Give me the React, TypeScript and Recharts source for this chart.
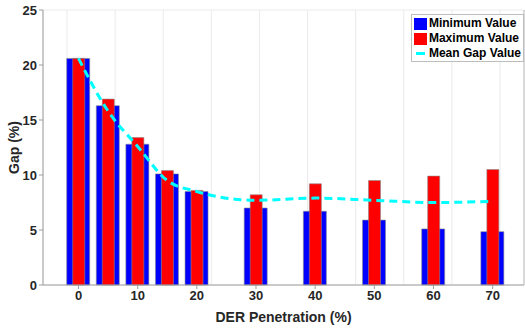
import React from 'react';
import {
  ComposedChart,
  Bar,
  Line,
  XAxis,
  YAxis,
  CartesianGrid,
} from 'recharts';

// DER penetration levels (%)
const penetration = [0, 5, 10, 15, 20, 30, 40, 50, 60, 70];
const minValue = [20.6, 16.3, 12.8, 10.1, 8.5, 7.0, 6.7, 5.9, 5.1, 4.85];
const maxValue = [20.6, 16.9, 13.4, 10.4, 8.6, 8.2, 9.2, 9.5, 9.9, 10.5];
const meanGap = [20.6, 15.8, 12.6, 9.5, 8.5, 7.7, 7.9, 7.7, 7.5, 7.6];

const xTicks = [0, 10, 20, 30, 40, 50, 60, 70];
const yTicks = [0, 5, 10, 15, 20, 25];

const FONT = '"Liberation Sans", Arial, sans-serif';
const TEXT = '#262626';

const chartData = penetration.map((p, i) => ({
  der: p,
  min: minValue[i],
  max: maxValue[i],
  mean: meanGap[i],
}));

const legendItems = [
  { label: 'Minimum Value', color: '#0000FF', kind: 'box' },
  { label: 'Maximum Value', color: '#FF0000', kind: 'box' },
  { label: 'Mean Gap Value', color: '#00FFFF', kind: 'line' },
];

// legend drawn as an overlay so it doesn't eat into the plot area
const GapLegend = () => (
  <div
    style={{
      position: 'absolute',
      top: 14,
      right: 1,
      background: '#fff',
      border: '1px solid #bdbdbd',
      padding: '1px 2px 0 2px',
      fontFamily: FONT,
      fontWeight: 'bold',
      fontSize: 12,
      color: '#000',
      lineHeight: '15px',
    }}
  >
    {legendItems.map((item) => (
      <div key={item.label} style={{ display: 'flex', alignItems: 'center' }}>
        {item.kind === 'box' ? (
          <span style={{ width: 13, height: 12, background: item.color, marginRight: 2 }} />
        ) : (
          <span
            style={{ width: 9, height: 3, background: item.color, margin: '0 4px 0 2px' }}
          />
        )}
        <span>{item.label}</span>
      </div>
    ))}
  </div>
);

export default function App() {
  return (
    <div style={{ position: 'absolute', left: 0, top: 0, width: 525, height: 328, background: '#fff' }}>
      <ComposedChart
        width={525}
        height={328}
        data={chartData}
        margin={{ top: 10, right: 0, bottom: 0, left: 0 }}
      >
        <CartesianGrid stroke="#ebebeb" strokeWidth={1} />
        <XAxis
          xAxisId="main"
          dataKey="der"
          type="number"
          domain={[-6, 75.3]}
          ticks={xTicks}
          height={43}
          stroke="#9e9e9e"
          tickLine={{ stroke: '#9e9e9e' }}
          tickSize={4}
          tick={{ fill: TEXT, fontFamily: FONT, fontWeight: 'bold', fontSize: 13 }}
          label={{
            value: 'DER Penetration (%)',
            position: 'insideBottom',
            offset: 6,
            fill: TEXT,
            fontFamily: FONT,
            fontWeight: 'bold',
            fontSize: 14,
          }}
        />
        <XAxis xAxisId="overlay" dataKey="der" type="number" domain={[-6, 75.3]} hide />
        <XAxis
          xAxisId="top"
          orientation="top"
          dataKey="der"
          type="number"
          domain={[-6, 75.3]}
          ticks={xTicks}
          height={0}
          stroke="#bdbdbd"
          tick={false}
          tickSize={0}
        />
        <YAxis
          yAxisId="left"
          domain={[0, 25]}
          ticks={yTicks}
          width={43}
          stroke="#9e9e9e"
          tickSize={4}
          tick={{ fill: TEXT, fontFamily: FONT, fontWeight: 'bold', fontSize: 13 }}
          label={{
            value: 'Gap (%)',
            angle: -90,
            position: 'insideLeft',
            offset: 14,
            style: { textAnchor: 'middle' },
            fill: TEXT,
            fontFamily: FONT,
            fontWeight: 'bold',
            fontSize: 14,
          }}
        />
        <YAxis
          yAxisId="right"
          orientation="right"
          domain={[0, 25]}
          ticks={yTicks}
          width={1}
          stroke="#bdbdbd"
          tick={false}
          tickSize={0}
        />
        <Bar
          xAxisId="main"
          yAxisId="left"
          dataKey="min"
          name="Minimum Value"
          fill="#0000FF"
          stroke="#8a8a8a"
          strokeWidth={0.6}
          barSize={23}
          isAnimationActive={false}
        />
        <Bar
          xAxisId="overlay"
          yAxisId="left"
          dataKey="max"
          name="Maximum Value"
          fill="#FF0000"
          stroke="#8a8a8a"
          strokeWidth={0.6}
          barSize={12}
          isAnimationActive={false}
        />
        <Line
          xAxisId="main"
          yAxisId="left"
          type="monotone"
          dataKey="mean"
          name="Mean Gap Value"
          stroke="#00FFFF"
          strokeWidth={3}
          strokeDasharray="8 5"
          dot={false}
          isAnimationActive={false}
        />
      </ComposedChart>
      <GapLegend />
    </div>
  );
}
